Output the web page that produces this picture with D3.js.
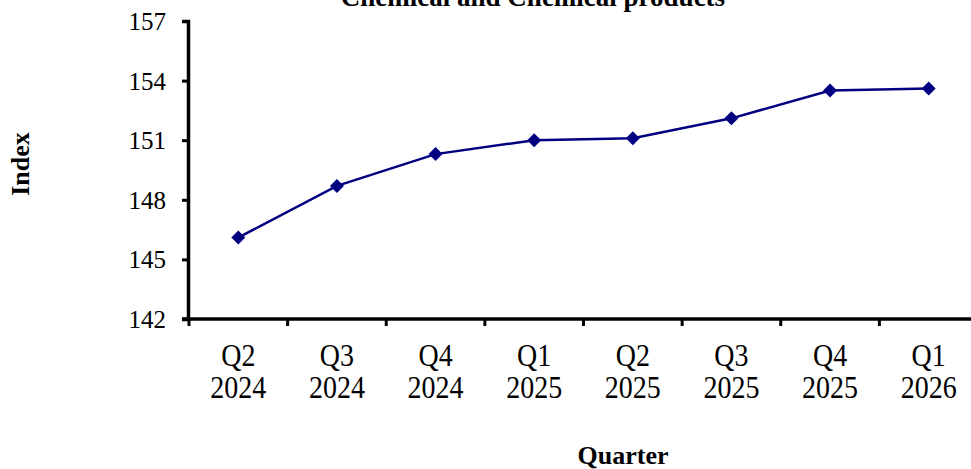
<!DOCTYPE html>
<html><head><meta charset="utf-8">
<script src="https://cdn.jsdelivr.net/npm/d3@7"></script>
<style>body{margin:0;background:#fff;}svg{display:block;}</style>
</head><body>
<script>
const quarters = ["Q2", "Q3", "Q4", "Q1", "Q2", "Q3", "Q4", "Q1"];
const years = ["2024", "2024", "2024", "2025", "2025", "2025", "2025", "2026"];
const values = [146.1, 148.7, 150.3, 151.0, 151.1, 152.1, 153.5, 153.6];
const yTicks = [142, 145, 148, 151, 154, 157];
const titleText = "Chemical and Chemical products";
const xTitle = "Quarter";
const yTitle = "Index";

(function () {
const W = 971, H = 469;
const svg = d3.select("body").append("svg").attr("width", W).attr("height", H);
const font = "'Liberation Serif','Times New Roman',serif";
const mLeft = 188, mRight = 978, mTop = 21, mBottom = 319;

const x = d3.scaleBand().domain(d3.range(values.length)).range([mLeft + 1, mRight]).padding(0);
const y = d3.scaleLinear().domain([142, 157]).range([mBottom, mTop]);

// title
svg.append("text").attr("x", 533).attr("y", 6).attr("text-anchor", "middle")
  .attr("font-family", font).attr("font-weight", "bold").attr("font-size", 27)
  .text(titleText);

// y axis
const ya = svg.append("g").attr("transform", `translate(${mLeft},0)`)
  .call(d3.axisLeft(y).tickValues(yTicks).tickSize(6).tickPadding(16).tickFormat(d3.format("d")));
ya.select(".domain").attr("stroke", "#000").attr("stroke-width", 3.5);
ya.selectAll(".tick line").attr("stroke", "#000").attr("stroke-width", 3);
ya.selectAll(".tick text").attr("font-family", font).attr("font-size", 25).attr("fill", "#000")
  .attr("dy", "0.34em");

// x axis
const xa = svg.append("g").attr("transform", `translate(0,${mBottom})`);
xa.append("line").attr("x1", mLeft - 6).attr("x2", mRight).attr("y1", 0).attr("y2", 0)
  .attr("stroke", "#000").attr("stroke-width", 3.5);
const tickPos = d3.range(values.length + 1).map(i => i < values.length ? x(i) : mRight);
xa.selectAll("line.t").data(tickPos).join("line").attr("class", "t")
  .attr("x1", d => d).attr("x2", d => d).attr("y1", 0).attr("y2", 7)
  .attr("stroke", "#000").attr("stroke-width", 3);
const cx = i => x(i) + x.bandwidth() / 2;
const lg = xa.selectAll("g.lab").data(values).join("g").attr("class", "lab")
  .attr("transform", (d, i) => `translate(${cx(i)},0) scale(1,1.12)`);
lg.append("text").attr("y", 47 / 1.12).attr("text-anchor", "middle")
  .attr("font-family", font).attr("font-size", 28).attr("fill", "#000").text((d, i) => quarters[i]);
lg.append("text").attr("y", 79 / 1.12).attr("text-anchor", "middle")
  .attr("font-family", font).attr("font-size", 28).attr("fill", "#000").text((d, i) => years[i]);

// axis titles
svg.append("text").attr("x", 623).attr("y", 464).attr("text-anchor", "middle")
  .attr("font-family", font).attr("font-weight", "bold").attr("font-size", 26).text(xTitle);
svg.append("text").attr("transform", "translate(29,164) rotate(-90)").attr("text-anchor", "middle")
  .attr("font-family", font).attr("font-weight", "bold").attr("font-size", 26).text(yTitle);

// line
svg.append("path").datum(values)
  .attr("d", d3.line().x((d, i) => cx(i)).y(d => y(d)))
  .attr("fill", "none").attr("stroke", "#000080").attr("stroke-width", 2.5);
svg.selectAll("path.m").data(values).join("path").attr("class", "m")
  .attr("d", d3.symbol().type(d3.symbolDiamond2).size(125))
  .attr("transform", (d, i) => `translate(${cx(i)},${y(d)})`)
  .attr("fill", "#000080");
})();
</script>
</body></html>
